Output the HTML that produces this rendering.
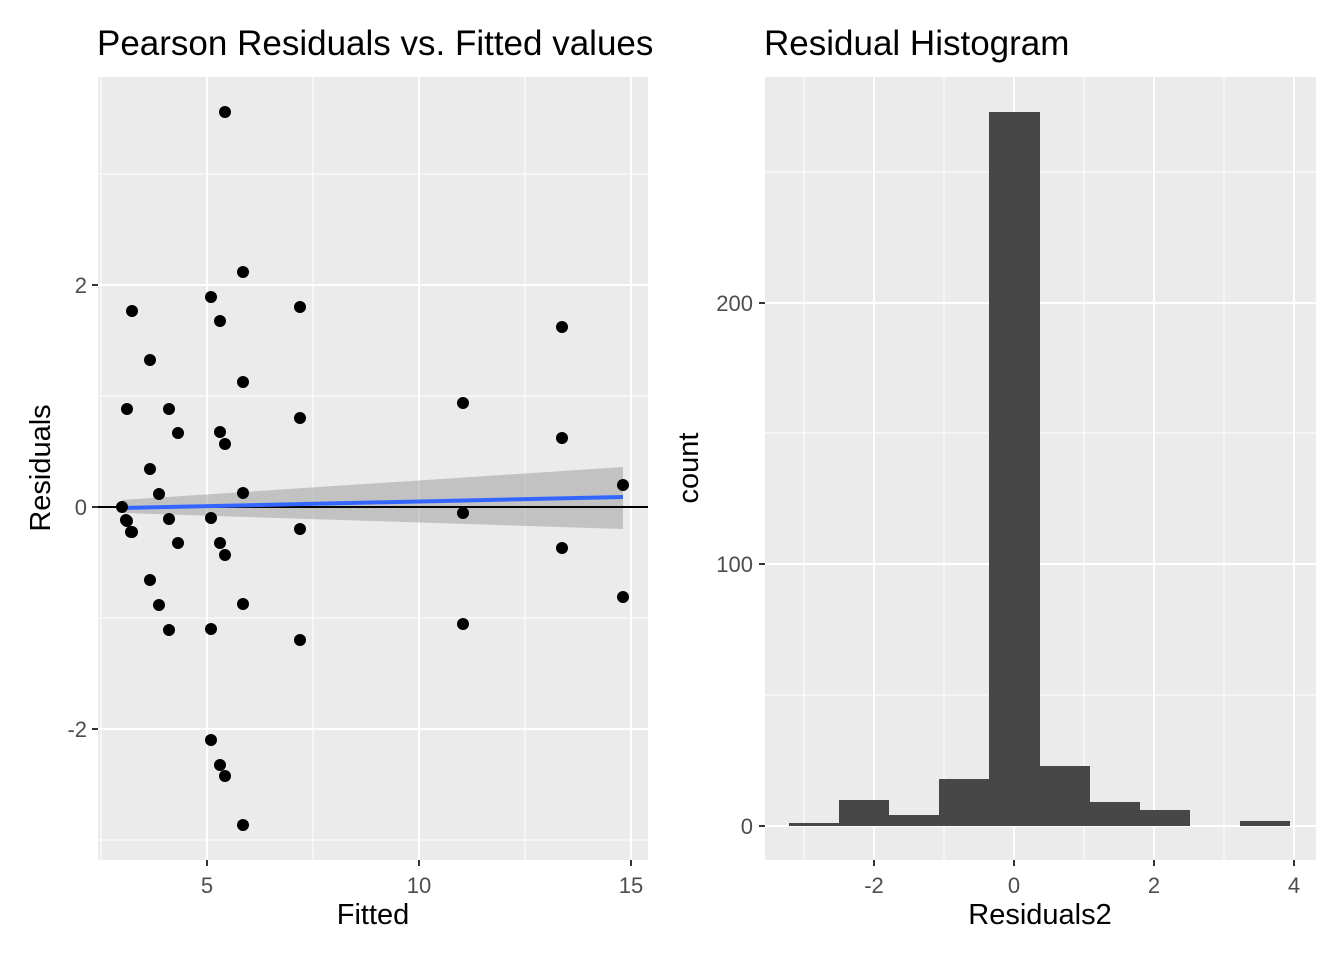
<!DOCTYPE html>
<html><head><meta charset="utf-8"><style>
body{margin:0;background:#fff}
svg text{font-family:"Liberation Sans",Arial,sans-serif}
</style></head><body>
<svg width="1344" height="960" xmlns="http://www.w3.org/2000/svg">
<rect width="1344" height="960" fill="#fff"/>
<rect x="98" y="77" width="550" height="783" fill="#ebebeb"/>
<g stroke="#fff" stroke-width="1">
<line x1="98" x2="648" y1="174" y2="174"/><line x1="98" x2="648" y1="396" y2="396"/>
<line x1="98" x2="648" y1="618" y2="618"/><line x1="98" x2="648" y1="840" y2="840"/>
<line x1="101" x2="101" y1="77" y2="860"/><line x1="313" x2="313" y1="77" y2="860"/><line x1="525" x2="525" y1="77" y2="860"/>
</g>
<g stroke="#fff" stroke-width="2">
<line x1="98" x2="648" y1="285" y2="285"/><line x1="98" x2="648" y1="507" y2="507"/><line x1="98" x2="648" y1="729" y2="729"/>
<line x1="207" x2="207" y1="77" y2="860"/><line x1="419" x2="419" y1="77" y2="860"/><line x1="631" x2="631" y1="77" y2="860"/>
</g>
<polygon points="122,500 623,467 623,529 122,513" fill="#999" fill-opacity="0.5"/>
<line x1="98" x2="648" y1="507" y2="507" stroke="#000" stroke-width="2"/>
<line x1="122" y1="508" x2="623" y2="497" stroke="#3366ff" stroke-width="4"/>
<g fill="#000">
<circle cx="122" cy="507" r="6"/><circle cx="126" cy="520" r="6"/><circle cx="127" cy="409" r="6"/><circle cx="127" cy="521" r="6"/><circle cx="131" cy="532" r="6"/><circle cx="132" cy="311" r="6"/><circle cx="132" cy="532" r="6"/><circle cx="150" cy="360" r="6"/><circle cx="150" cy="469" r="6"/><circle cx="150" cy="580" r="6"/><circle cx="159" cy="494" r="6"/><circle cx="159" cy="605" r="6"/><circle cx="169" cy="409" r="6"/><circle cx="169" cy="519" r="6"/><circle cx="169" cy="630" r="6"/><circle cx="178" cy="433" r="6"/><circle cx="178" cy="543" r="6"/><circle cx="211" cy="297" r="6"/><circle cx="211" cy="518" r="6"/><circle cx="211" cy="629" r="6"/><circle cx="211" cy="740" r="6"/><circle cx="220" cy="321" r="6"/><circle cx="220" cy="432" r="6"/><circle cx="220" cy="543" r="6"/><circle cx="220" cy="765" r="6"/><circle cx="225" cy="112" r="6"/><circle cx="225" cy="444" r="6"/><circle cx="225" cy="555" r="6"/><circle cx="225" cy="776" r="6"/><circle cx="243" cy="272" r="6"/><circle cx="243" cy="382" r="6"/><circle cx="243" cy="493" r="6"/><circle cx="243" cy="604" r="6"/><circle cx="243" cy="825" r="6"/><circle cx="300" cy="307" r="6"/><circle cx="300" cy="418" r="6"/><circle cx="300" cy="529" r="6"/><circle cx="300" cy="640" r="6"/><circle cx="463" cy="403" r="6"/><circle cx="463" cy="513" r="6"/><circle cx="463" cy="624" r="6"/><circle cx="562" cy="327" r="6"/><circle cx="562" cy="438" r="6"/><circle cx="562" cy="548" r="6"/><circle cx="623" cy="485" r="6"/><circle cx="623" cy="597" r="6"/>
</g>
<g stroke="#333" stroke-width="2">
<line x1="92" x2="98" y1="285" y2="285"/><line x1="92" x2="98" y1="507" y2="507"/><line x1="92" x2="98" y1="729" y2="729"/>
<line x1="207" x2="207" y1="860" y2="866"/><line x1="419" x2="419" y1="860" y2="866"/><line x1="631" x2="631" y1="860" y2="866"/>
</g>
<g fill="#4d4d4d" font-size="22" text-anchor="end">
<text x="87" y="293">2</text><text x="87" y="515">0</text><text x="87" y="737">-2</text>
</g>
<g fill="#4d4d4d" font-size="22" text-anchor="middle">
<text x="207" y="893">5</text><text x="419" y="893">10</text><text x="631" y="893">15</text>
</g>
<text x="373" y="924" font-size="29" text-anchor="middle">Fitted</text>
<text transform="translate(50,468) rotate(-90)" font-size="29" text-anchor="middle">Residuals</text>
<text x="97" y="55" font-size="35">Pearson Residuals vs. Fitted values</text>
<rect x="765" y="77" width="551" height="783" fill="#ebebeb"/>
<g stroke="#fff" stroke-width="1">
<line x1="765" x2="1316" y1="695" y2="695"/><line x1="765" x2="1316" y1="433" y2="433"/><line x1="765" x2="1316" y1="172" y2="172"/>
<line x1="804" x2="804" y1="77" y2="860"/><line x1="944" x2="944" y1="77" y2="860"/><line x1="1084" x2="1084" y1="77" y2="860"/><line x1="1224" x2="1224" y1="77" y2="860"/>
</g>
<g stroke="#fff" stroke-width="2">
<line x1="765" x2="1316" y1="826" y2="826"/><line x1="765" x2="1316" y1="564" y2="564"/><line x1="765" x2="1316" y1="303" y2="303"/>
<line x1="874" x2="874" y1="77" y2="860"/><line x1="1014" x2="1014" y1="77" y2="860"/><line x1="1154" x2="1154" y1="77" y2="860"/><line x1="1294" x2="1294" y1="77" y2="860"/>
</g>
<g fill="#474747">
<rect x="789" y="823" width="50" height="3"/>
<rect x="839" y="800" width="50" height="26"/>
<rect x="889" y="815" width="50" height="11"/>
<rect x="939" y="779" width="50" height="47"/>
<rect x="989" y="112" width="51" height="714"/>
<rect x="1040" y="766" width="50" height="60"/>
<rect x="1090" y="802" width="50" height="24"/>
<rect x="1140" y="810" width="50" height="16"/>
<rect x="1240" y="821" width="50" height="5"/>
</g>
<g stroke="#333" stroke-width="2">
<line x1="759" x2="765" y1="826" y2="826"/><line x1="759" x2="765" y1="564" y2="564"/><line x1="759" x2="765" y1="303" y2="303"/>
<line x1="874" x2="874" y1="860" y2="866"/><line x1="1014" x2="1014" y1="860" y2="866"/><line x1="1154" x2="1154" y1="860" y2="866"/><line x1="1294" x2="1294" y1="860" y2="866"/>
</g>
<g fill="#4d4d4d" font-size="22" text-anchor="end">
<text x="753" y="834">0</text><text x="753" y="572">100</text><text x="753" y="311">200</text>
</g>
<g fill="#4d4d4d" font-size="22" text-anchor="middle">
<text x="874" y="893">-2</text><text x="1014" y="893">0</text><text x="1154" y="893">2</text><text x="1294" y="893">4</text>
</g>
<text x="1040" y="924" font-size="29" text-anchor="middle">Residuals2</text>
<text transform="translate(698,468) rotate(-90)" font-size="29" text-anchor="middle">count</text>
<text x="764" y="55" font-size="35">Residual Histogram</text>
</svg>
</body></html>
